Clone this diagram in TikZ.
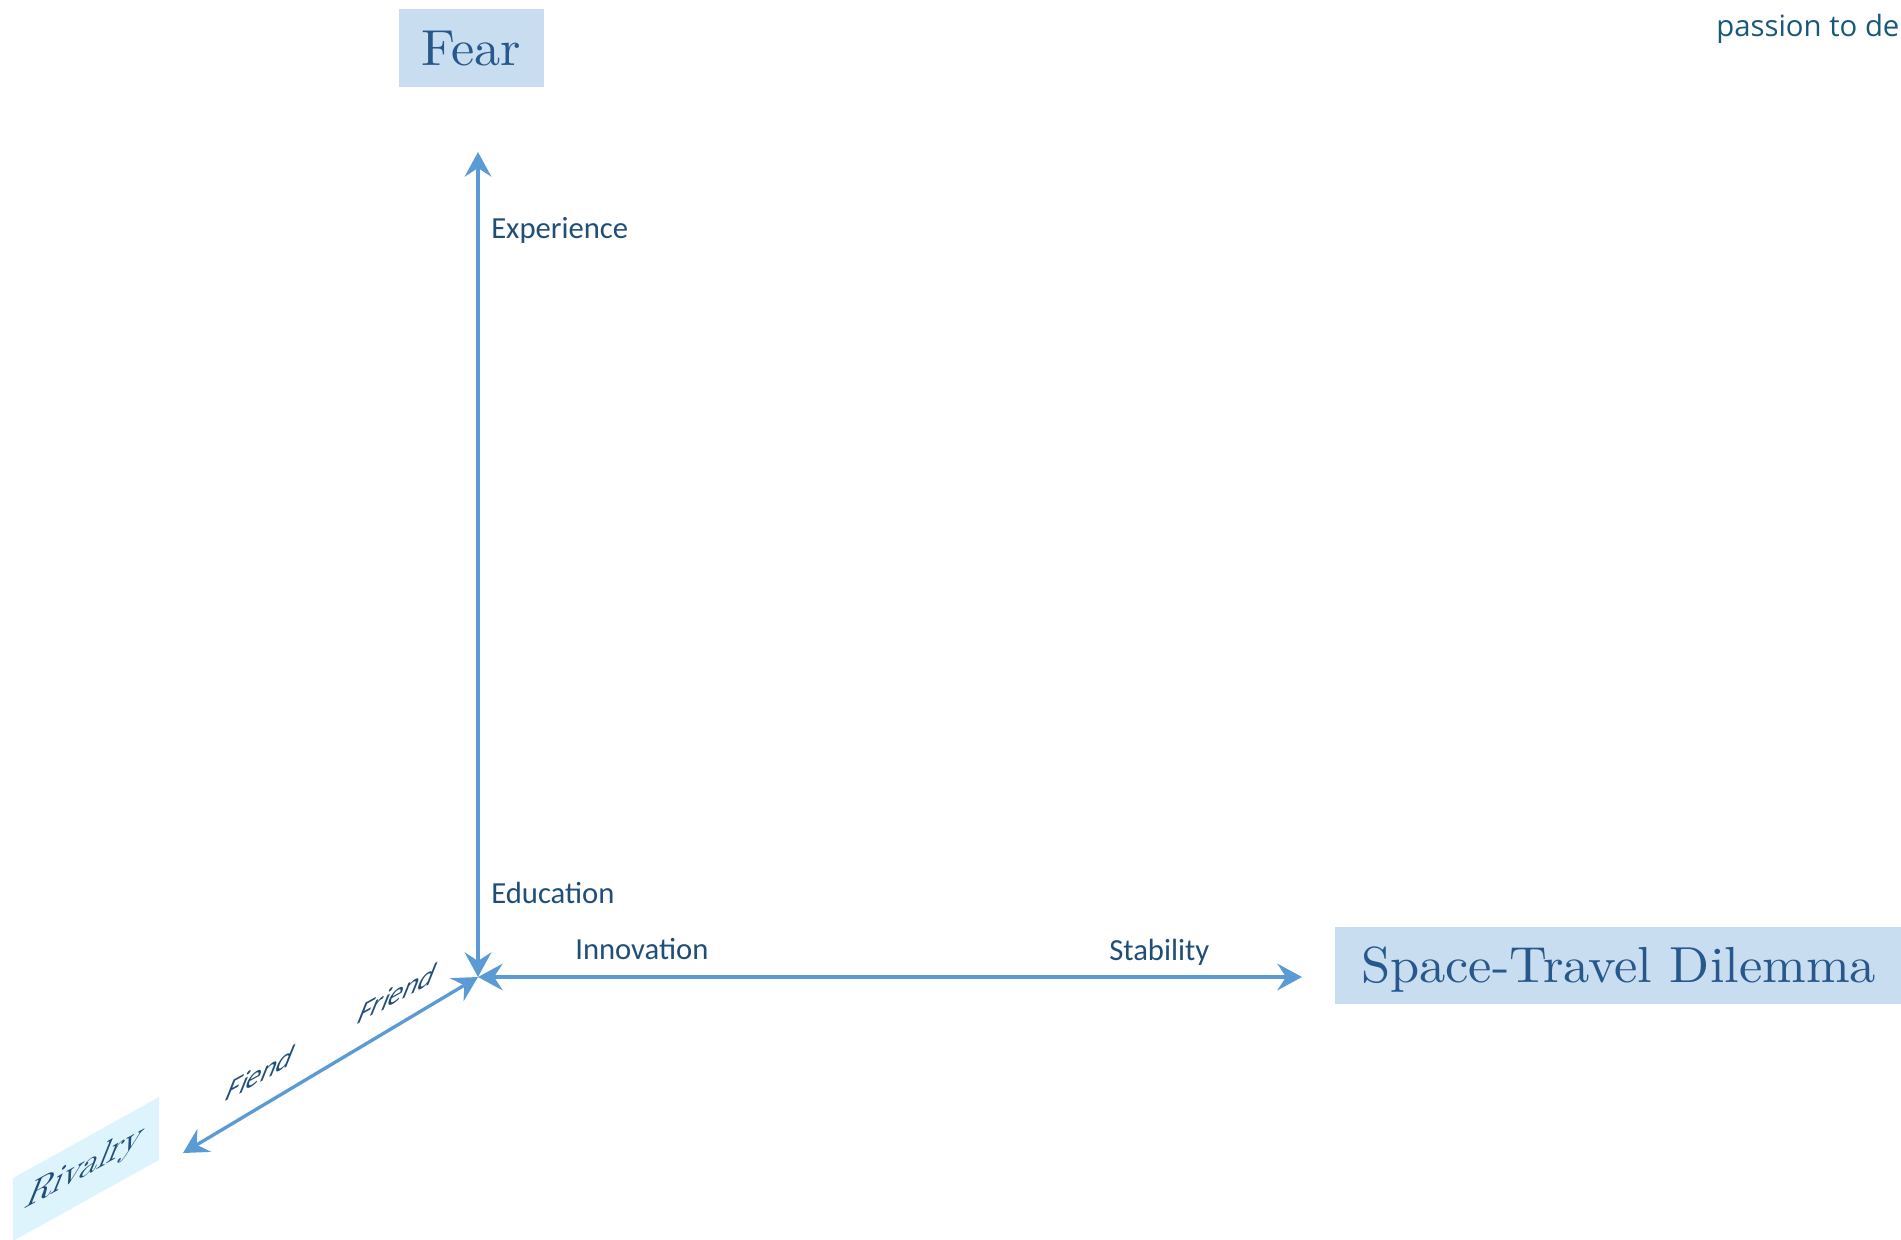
\documentclass[tikz,border=0pt]{standalone}
\usepackage{fontspec}
\usepackage{graphicx}
\usetikzlibrary{arrows.meta}
\newfontfamily\lblfont{Carlito}
\newfontfamily\notefont{Open Sans}
\newfontfamily\titlefont{lmroman10-regular.otf}
\definecolor{axisblue}{RGB}{91,155,213}
\definecolor{lbltext}{RGB}{31,78,121}
\definecolor{titletext}{RGB}{38,88,140}
\definecolor{boxfill}{RGB}{201,221,240}
\definecolor{rivfill}{RGB}{222,244,253}
\definecolor{notetext}{RGB}{26,88,122}
\begin{document}
\begin{tikzpicture}[x=0.75pt, y=-0.75pt,
  >={Stealth[length=18.5pt,width=20pt,inset=6.5pt]},
  axis/.style={draw=axisblue, line width=2.5pt, <->},
  lbl/.style={font=\lblfont\fontsize{23}{27}\selectfont, text=lbltext, inner sep=0pt},
  titlebox/.style={fill=boxfill, text=titletext, font=\titlefont\fontsize{38}{44}\selectfont, inner sep=0pt, text height=25.95pt, text depth=0pt},
  slantlbl/.style={lbl, font=\lblfont\fontsize{25}{29}\selectfont, cm={0.88,0.48,0.4,1.0,(0,0)}},
]
\useasboundingbox (0,0) rectangle (1901,1239);
\clip (0,0) rectangle (1901,1239);

% title boxes
\node[titlebox, minimum width=145*0.75pt, minimum height=78*0.75pt] (fear) at (471.5,48) {\scalebox{1.03}[1]{Fear}};
\node[titlebox, minimum width=567*0.75pt, minimum height=77*0.75pt] (space) at (1618.5,965.5) {\scalebox{1.035}[1]{Space-Travel Dilemma}};

% slanted Rivalry box
\node[fill=rivfill, yslant=0.555, minimum width=146*0.75pt, minimum height=63*0.75pt, inner sep=0pt] (rivbox) at (86,1169) {};
\node[font=\titlefont\fontsize{31}{35}\selectfont, text=lbltext, cm={0.88,0.48,0.4,1.0,(0,0)}, inner sep=0pt] (rivalry) at (85,1168) {Rivalry};

% axes
\coordinate (O) at (478,977);
\coordinate (ytip) at (478,152);
\coordinate (xtip) at (1302,977);
\coordinate (ztip) at (183,1153);
\draw[axis] (O) -- (ytip);
\draw[axis] (O) -- (xtip);
\draw[axis] (O) -- (ztip);

% axis labels
\node[lbl, anchor=base west] (experience) at (491,238) {Experience};
\node[lbl, anchor=base west] (education) at (491,903) {Education};
\node[lbl, anchor=base west] (innovation) at (575,959) {Innovation};
\node[lbl, anchor=base west] (stability) at (1109,960) {Stability};
\node[slantlbl] (friend) at (398,993) {Friend};
\node[slantlbl] (fiend) at (261,1073) {Fiend};

% cut-off note text
\node[font=\notefont\fontsize{22}{26}\selectfont, text=notetext, anchor=base west, inner sep=0pt] (note) at (1716,36) {passion to de};
\end{tikzpicture}
\end{document}
